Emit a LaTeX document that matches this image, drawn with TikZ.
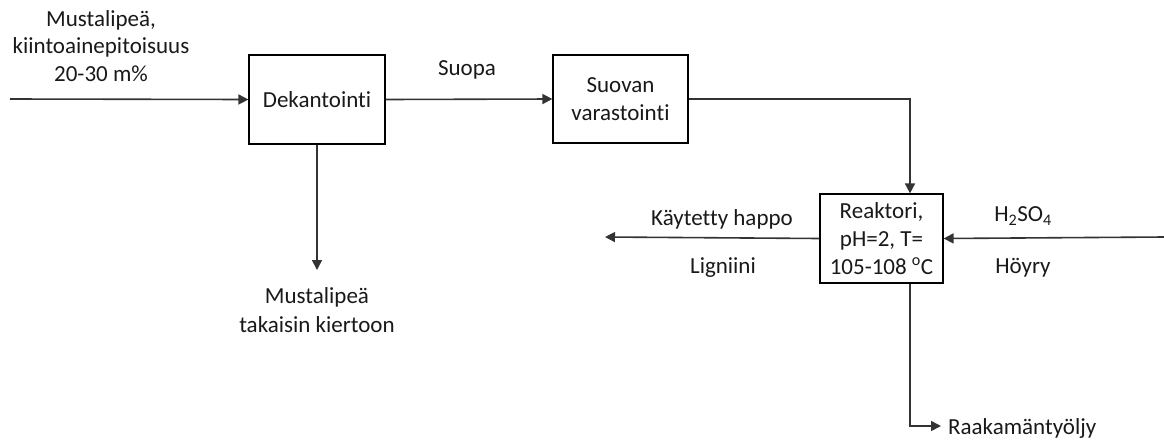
\documentclass[tikz,border=0pt]{standalone}
\usepackage{fontspec}
\setmainfont{Carlito}[Ligatures={NoCommon}]
\usetikzlibrary{arrows.meta}
\begin{document}
\begin{tikzpicture}[x=1pt,y=-1pt,
  every node/.style={font=\fontsize{23}{28}\selectfont, text=black!90},
  box/.style={draw, line width=1.2pt, inner sep=0pt, align=center},
  lbl/.style={align=center, inner sep=0pt},
  flow/.style={line width=1.6pt, draw=black!80, -{Triangle[length=10pt,width=10pt]}},
  plain/.style={line width=1.6pt, draw=black!80}]
\useasboundingbox (0,0) rectangle (1164,445);
\node[box, minimum width=136pt, minimum height=89pt] (dek) at (317,99.5) {Dekantointi};
\node[box, minimum width=135pt, minimum height=88pt] (suo) at (620.5,99) {Suovan\\varastointi};
\node[box, minimum width=123pt, minimum height=89pt] (rea) at (881.5,238.5) {Reaktori,\\pH=2, T=\\105-108 \textsuperscript{o}C};
\coordinate (in) at (10,99);
\coordinate (c1) at (910,99);
\coordinate (out1) at (605,237);
\coordinate (in2) at (1164,237);
\coordinate (c2) at (910,426);
\coordinate (out2) at (941,426);
\coordinate (out3) at (317,270);
\node[lbl] (t1) at (101,20) {Mustalipeä,};
\node[lbl] (t2) at (101,47) {kiintoainepitoisuus};
\node[lbl] (t3) at (101,74) {20-30 m\%};
\node[lbl] (sp) at (467,70) {Suopa};
\node[lbl] (kh) at (722,219) {Käytetty happo};
\node[lbl] (lg) at (723,268) {Ligniini};
\node[lbl] (h2) at (1023,216) {H\textsubscript{2}SO\textsubscript{4}};
\node[lbl] (hy) at (1023,268) {Höyry};
\node[lbl] (m1) at (317,297) {Mustalipeä};
\node[lbl] (m2) at (317,325) {takaisin kiertoon};
\node[lbl, anchor=west] (rk) at (948,428) {Raakamäntyöljy};
\draw[flow] (in) -- (dek.west);
\draw[flow] (dek.east) -- (suo.west);
\draw[flow] (suo.east) -- (c1) -- (c1 |- rea.north);
\draw[flow] (rea.west) -- (out1);
\draw[flow] (in2) -- (rea.east);
\draw[flow] (dek.south) -- (out3);
\draw[flow] (c1 |- rea.south) -- (c2) -- (out2);
\end{tikzpicture}
\end{document}
